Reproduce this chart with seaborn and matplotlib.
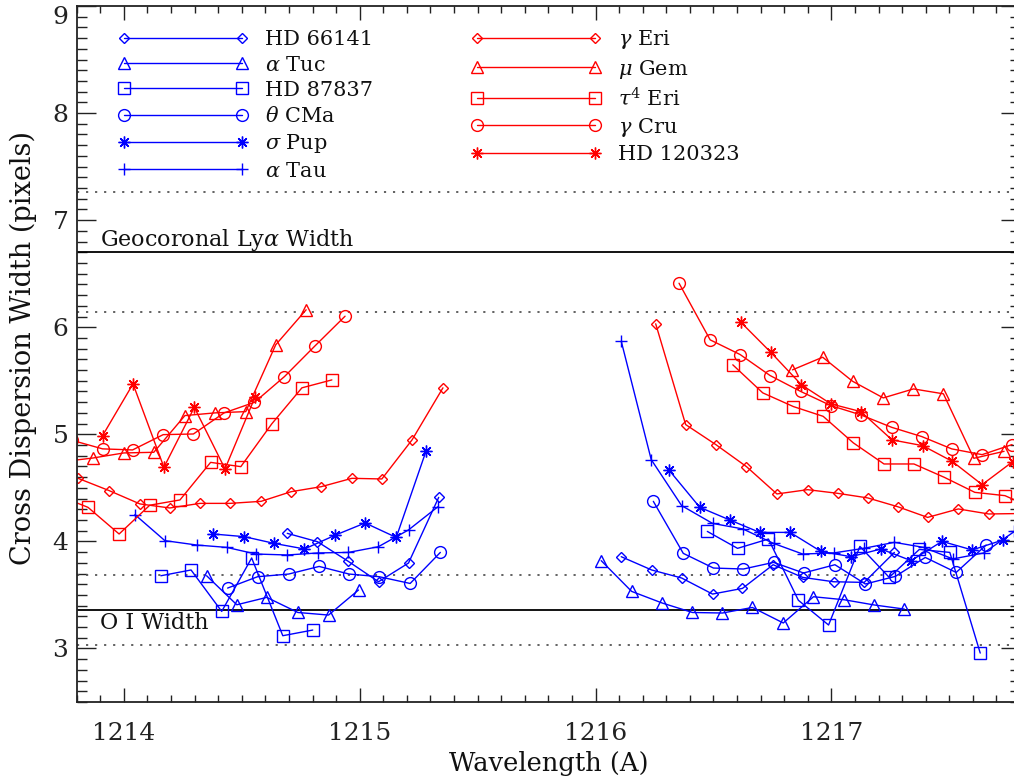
import matplotlib
matplotlib.use("Agg")
import matplotlib.pyplot as plt
from matplotlib.ticker import MultipleLocator
import pandas as pd
import seaborn as sns

# Cross-dispersion width (pixels) versus wavelength (A); each star has two
# detector segments, "a" below the Ly-alpha gap and "b" above it.

# ---- blue stars ----
hd66141_wl_a = [1214.693, 1214.821, 1214.952, 1215.080, 1215.207, 1215.335]
hd66141_w_a = [4.075, 3.997, 3.813, 3.623, 3.798, 4.411]
hd66141_wl_b = [1216.109, 1216.238, 1216.365, 1216.496, 1216.623, 1216.753,
                1216.878, 1217.009, 1217.139, 1217.267]
hd66141_w_b = [3.857, 3.733, 3.658, 3.508, 3.561, 3.782, 3.664, 3.623, 3.617, 3.897]

atuc_wl_a = [1214.351, 1214.479, 1214.606, 1214.738, 1214.868, 1214.995]
atuc_w_a = [3.679, 3.408, 3.477, 3.336, 3.312, 3.546]
atuc_wl_b = [1216.024, 1216.153, 1216.283, 1216.411, 1216.538, 1216.665,
             1216.796, 1216.924, 1217.054, 1217.182, 1217.309]
atuc_w_b = [3.820, 3.533, 3.424, 3.336, 3.331, 3.383, 3.238, 3.483, 3.455, 3.406, 3.368]

hd87837_wl_a = [1214.157, 1214.285, 1214.415, 1214.542, 1214.674, 1214.801]
hd87837_w_a = [3.679, 3.733, 3.346, 3.845, 3.119, 3.172]
hd87837_wl_b = [1216.474, 1216.602, 1216.733, 1216.860, 1216.988, 1217.121,
                1217.245, 1217.373, 1217.502, 1217.631]
hd87837_w_b = [4.093, 3.935, 4.022, 3.450, 3.219, 3.953, 3.664, 3.925, 3.897, 2.957]

tcma_wl_a = [1214.440, 1214.567, 1214.699, 1214.828, 1214.955, 1215.083, 1215.214, 1215.342]
tcma_w_a = [3.564, 3.670, 3.695, 3.766, 3.695, 3.670, 3.607, 3.897]
tcma_wl_b = [1216.245, 1216.372, 1216.500, 1216.627, 1216.755, 1216.882,
             1217.015, 1217.144, 1217.271, 1217.398, 1217.529, 1217.656]
tcma_w_b = [4.374, 3.888, 3.751, 3.742, 3.804, 3.705, 3.782, 3.602, 3.673, 3.850, 3.710, 3.966]

spup_wl_a = [1214.379, 1214.511, 1214.638, 1214.766, 1214.896, 1215.023, 1215.155, 1215.282]
spup_w_a = [4.069, 4.044, 3.981, 3.929, 4.058, 4.172, 4.037, 4.848]
spup_wl_b = [1216.311, 1216.442, 1216.569, 1216.696, 1216.825, 1216.955,
             1217.083, 1217.210, 1217.338, 1217.469, 1217.597, 1217.727]
spup_w_b = [4.667, 4.318, 4.200, 4.084, 4.084, 3.907, 3.857, 3.929, 3.820, 4.000, 3.920, 4.013]

atau_wl_a = [1214.047, 1214.174, 1214.309, 1214.436, 1214.560, 1214.693,
             1214.822, 1214.952, 1215.079, 1215.207, 1215.332]
atau_w_a = [4.250, 4.007, 3.966, 3.944, 3.882, 3.873, 3.892, 3.897, 3.950, 4.107, 4.324]
atau_wl_b = [1216.109, 1216.236, 1216.365, 1216.496, 1216.625, 1216.755, 1216.878,
             1217.009, 1217.137, 1217.267, 1217.391, 1217.515, 1217.646, 1217.776]
atau_w_b = [5.869, 4.764, 4.334, 4.168, 4.116, 3.981, 3.882, 3.892, 3.935, 3.991,
            3.944, 3.836, 3.892, 4.093]

# ---- red stars ----
geri_wl_a = [1213.806, 1213.938, 1214.068, 1214.195, 1214.323, 1214.450, 1214.582,
             1214.709, 1214.837, 1214.967, 1215.094, 1215.222, 1215.353]
geri_w_a = [4.589, 4.474, 4.350, 4.312, 4.355, 4.355, 4.374, 4.464, 4.511, 4.589,
            4.583, 4.948, 5.434]
geri_wl_b = [1216.255, 1216.382, 1216.510, 1216.640, 1216.769, 1216.899, 1217.026,
             1217.154, 1217.281, 1217.408, 1217.538, 1217.667, 1217.796]
geri_w_b = [6.032, 5.091, 4.904, 4.698, 4.443, 4.483, 4.449, 4.406, 4.324, 4.224,
            4.303, 4.256, 4.260]

mgem_wl_a = [1213.742, 1213.870, 1214.000, 1214.127, 1214.259, 1214.386, 1214.517,
             1214.644, 1214.773]
mgem_w_a = [4.745, 4.779, 4.826, 4.832, 5.175, 5.200, 5.212, 5.836, 6.163]
mgem_wl_b = [1216.835, 1216.963, 1217.090, 1217.220, 1217.348, 1217.475, 1217.604, 1217.732]
mgem_w_b = [5.602, 5.720, 5.495, 5.340, 5.424, 5.378, 4.776, 4.841]

t4eri_wl_a = [1213.720, 1213.848, 1213.980, 1214.110, 1214.238, 1214.368, 1214.496,
              1214.627, 1214.755, 1214.882]
t4eri_w_a = [4.430, 4.318, 4.069, 4.338, 4.387, 4.738, 4.698, 5.097, 5.434, 5.508]
t4eri_wl_b = [1216.582, 1216.709, 1216.839, 1216.965, 1217.093, 1217.223, 1217.350,
              1217.479, 1217.608, 1217.736, 1217.865]
t4eri_w_b = [5.649, 5.387, 5.259, 5.168, 4.920, 4.723, 4.723, 4.598, 4.458, 4.427, 4.300]

gcru_wl_a = [1213.782, 1213.910, 1214.037, 1214.167, 1214.295, 1214.425, 1214.554,
             1214.681, 1214.812, 1214.938]
gcru_w_a = [4.943, 4.864, 4.854, 4.997, 5.003, 5.200, 5.299, 5.539, 5.829, 6.103]
gcru_wl_b = [1216.354, 1216.486, 1216.613, 1216.740, 1216.869, 1216.998, 1217.125,
             1217.256, 1217.383, 1217.510, 1217.639, 1217.766]
gcru_w_b = [6.411, 5.882, 5.745, 5.549, 5.401, 5.268, 5.181, 5.065, 4.979, 4.864, 4.810, 4.904]

hd120323_wl_a = [1213.910, 1214.039, 1214.170, 1214.299, 1214.429, 1214.556]
hd120323_w_a = [4.988, 5.471, 4.692, 5.252, 4.677, 5.346]
hd120323_wl_b = [1216.616, 1216.743, 1216.873, 1216.998, 1217.125, 1217.257, 1217.387,
                 1217.512, 1217.639, 1217.769]
hd120323_w_b = [6.047, 5.766, 5.462, 5.284, 5.212, 4.948, 4.894, 4.748, 4.530, 4.745]

# reference widths (pixels) and their uncertainties
lya_width, lya_err = 6.70, 0.56
oi_width, oi_err = 3.36, 0.33

x_range = (1213.8, 1217.8)
y_range = (2.5, 9.0)
x_ticks = [1214, 1215, 1216, 1217]
y_ticks = [3, 4, 5, 6, 7, 8, 9]

ASTERISK = (8, 2, 0)
stars = [
    ("HD 66141", "blue", "D", [(hd66141_wl_a, hd66141_w_a), (hd66141_wl_b, hd66141_w_b)]),
    ("$\\alpha$ Tuc", "blue", "^", [(atuc_wl_a, atuc_w_a), (atuc_wl_b, atuc_w_b)]),
    ("HD 87837", "blue", "s", [(hd87837_wl_a, hd87837_w_a), (hd87837_wl_b, hd87837_w_b)]),
    ("$\\theta$ CMa", "blue", "o", [(tcma_wl_a, tcma_w_a), (tcma_wl_b, tcma_w_b)]),
    ("$\\sigma$ Pup", "blue", ASTERISK, [(spup_wl_a, spup_w_a), (spup_wl_b, spup_w_b)]),
    ("$\\alpha$ Tau", "blue", "+", [(atau_wl_a, atau_w_a), (atau_wl_b, atau_w_b)]),
    ("$\\gamma$ Eri", "red", "D", [(geri_wl_a, geri_w_a), (geri_wl_b, geri_w_b)]),
    ("$\\mu$ Gem", "red", "^", [(mgem_wl_a, mgem_w_a), (mgem_wl_b, mgem_w_b)]),
    ("$\\tau^4$ Eri", "red", "s", [(t4eri_wl_a, t4eri_w_a), (t4eri_wl_b, t4eri_w_b)]),
    ("$\\gamma$ Cru", "red", "o", [(gcru_wl_a, gcru_w_a), (gcru_wl_b, gcru_w_b)]),
    ("HD 120323", "red", ASTERISK, [(hd120323_wl_a, hd120323_w_a), (hd120323_wl_b, hd120323_w_b)]),
]
marker_size = {"D": 5.4, "^": 8.5, "s": 8.5, "o": 8.5, ASTERISK: 8.5, "+": 9.0}

sns.set_theme(style="white")
plt.rcParams["font.family"] = ["DejaVu Serif"]
plt.rcParams["mathtext.fontset"] = "dejavuserif"
plt.rcParams["axes.edgecolor"] = "#222222"

FS_LEGEND = 15
FS_NOTE = 16
FS_AXIS = 18.5
FS_YAXIS = 19.5
FS_TICK = 18

fig = plt.figure(figsize=(10.14, 7.8), dpi=100)
ax = fig.add_axes([0.0756, 0.1, 0.9304, 0.8923])

for name, color, mk, segments in stars:
    for i, (wl, w) in enumerate(segments):
        df = pd.DataFrame({"wavelength": wl, "width": w})
        sns.lineplot(data=df, x="wavelength", y="width", ax=ax, color=color,
                     marker=mk, markersize=marker_size[mk], markerfacecolor="none",
                     markeredgecolor=color, markeredgewidth=1.0, linewidth=1.0,
                     label=name if i == 0 else None, legend=False)

# reference widths: solid at the value, dotted at +/- one sigma
for val, err in [(lya_width, lya_err), (oi_width, oi_err)]:
    ax.axhline(val, color="black", lw=1.3, zorder=1)
    for v in (val - err, val + err):
        ax.axhline(v, color="#555555", lw=1.3, ls=(0, (1.2, 3.8)), zorder=1)

ax.text(1213.898, 6.754, "Geocoronal Ly$\\alpha$ Width", fontsize=FS_NOTE, ha="left",
        va="baseline", color="#111111")
ax.text(1213.898, 3.184, "O I Width", fontsize=FS_NOTE, ha="left", va="baseline",
        color="#111111")

ax.set_xlim(*x_range)
ax.set_ylim(*y_range)
ax.set_xticks(x_ticks)
ax.set_yticks(y_ticks)
ax.xaxis.set_minor_locator(MultipleLocator(0.1))
ax.yaxis.set_minor_locator(MultipleLocator(0.1))
ax.tick_params(axis="x", which="major", direction="in", length=10, width=1.0,
               top=True, bottom=True, labelsize=FS_TICK, pad=14.5, colors="#222222")
ax.tick_params(axis="x", which="minor", direction="in", length=5, width=1.0,
               top=True, bottom=True, colors="#222222")
ax.tick_params(axis="y", which="major", direction="in", length=13.5, width=1.0,
               left=True, right=True, labelsize=FS_TICK, pad=6, colors="#222222")
ax.tick_params(axis="y", which="minor", direction="in", length=7, width=1.0,
               left=True, right=True, colors="#222222")
for sp in ax.spines.values():
    sp.set_linewidth(1.3)
ax.grid(False)

ax.set_xlabel("Wavelength (A)", fontsize=FS_AXIS, color="#111111")
ax.set_ylabel("Cross Dispersion Width (pixels)", fontsize=FS_YAXIS, color="#111111")
ax.xaxis.set_label_coords(0.5, -0.071)
ax.yaxis.set_label_coords(-0.042, 0.509)

fig.canvas.draw()
top_label = ax.get_yticklabels()[-1]
top_label.set_verticalalignment("top")

handles, labels = ax.get_legend_handles_labels()
ax.legend(handles, labels, ncol=2, loc="upper left", bbox_to_anchor=(0.035, 0.98),
          frameon=False, fontsize=FS_LEGEND, numpoints=2, handlelength=6.27,
          handletextpad=0.8, labelspacing=0.30, columnspacing=4.65,
          borderaxespad=0.0, labelcolor="#111111")

fig.savefig("out.png", dpi=100)
